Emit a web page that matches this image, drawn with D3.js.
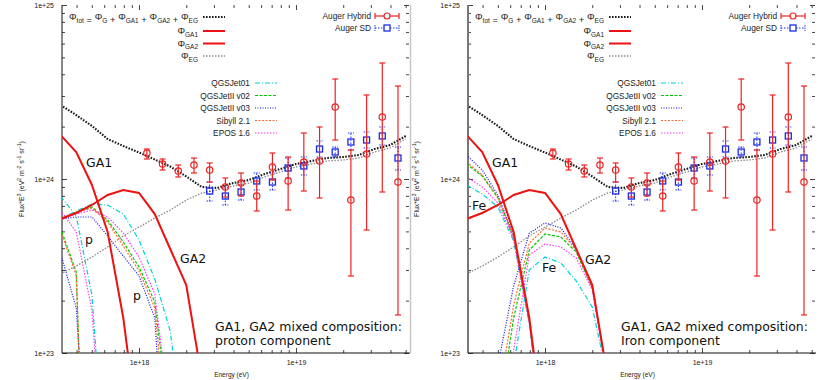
<!DOCTYPE html>
<html>
<head>
<meta charset="utf-8">
<script src="https://cdn.jsdelivr.net/npm/d3@7"></script>
<style>
body { margin: 0; background: #fff; }
text { font-family: "Liberation Sans", Arial, sans-serif; fill: #222; }
.big { font-family: "DejaVu Sans", sans-serif; font-size: 12.5px; fill: #111; }
</style>
</head>
<body>
<div id="chart"></div>
<script>
// energies (eV) of the model grid, flux values below are in units of 1e24 eV^2 m^-2 s^-1 sr^-1
var gridE = [3.16e17, 3.98e17, 5.01e17, 6.31e17, 7.94e17, 1.0e18, 1.26e18, 1.58e18, 2.0e18, 2.51e18, 3.16e18,
    3.98e18, 5.01e18, 6.31e18, 7.94e18, 1.0e19, 1.26e19, 1.58e19, 2.0e19, 2.51e19, 3.16e19, 3.98e19, 5.01e19];

var totalFlux = [2.663, 2.332, 2.017, 1.698, 1.547, 1.420, 1.294, 1.180, 1.034, 0.900, 0.888,
    0.948, 0.987, 1.068, 1.141, 1.219, 1.269, 1.320, 1.338, 1.374, 1.487, 1.568, 1.767];
var egFlux = [0.2845, 0.3162, 0.3562, 0.4066, 0.4704, 0.5298, 0.5969, 0.663, 0.757, 0.831, 0.865,
    0.9115, 0.948, 1.027, 1.097, 1.172, 1.219, 1.269, 1.286, 1.320, 1.430, 1.507, 1.698];
var ga1Flux = [1.790, 1.430, 0.924, 0.4958, 0.1589, 0.0316];
var ga2Flux = [0.589, 0.638, 0.709, 0.809, 0.865, 0.831, 0.629, 0.396, 0.246, 0.0718];

// Auger data
var hybridE = [1.122e18, 1.413e18, 1.778e18, 2.239e18, 2.818e18, 3.548e18, 4.467e18, 5.623e18, 7.079e18,
    8.913e18, 1.122e19, 1.413e19, 1.778e19, 2.239e19, 2.818e19, 3.548e19, 4.467e19];
var hybridFlux = [1.411, 1.219, 1.112, 1.203, 1.126, 0.900, 0.948, 0.798, 1.172, 0.974, 1.252, 1.269, 2.593, 0.757, 1.392, 2.272, 0.961];
var hybridLo = [1.303, 1.126, 1.027, 1.083, 0.961, 0.788, 0.798, 0.655, 0.987, 0.663, 0.853, 0.778, 1.675, 0.277, 0.509, 0.842, 0.1654];
var hybridHi = [1.487, 1.303, 1.203, 1.320, 1.236, 1.013, 1.083, 0.974, 1.411, 1.338, 1.838, 1.990, 3.755, 1.468, 3.039, 4.642, 3.423];

var sdE = [2.818e18, 3.548e18, 4.467e18, 5.623e18, 7.079e18, 8.913e18, 1.122e19, 1.413e19, 1.778e19, 2.239e19, 2.818e19, 3.548e19, 4.467e19];
var sdFlux = [0.853, 0.798, 0.842, 0.974, 0.961, 1.157, 1.188, 1.487, 1.430, 1.632, 1.675, 1.767, 1.320];
var sdLo = [0.747, 0.709, 0.757, 0.865, 0.865, 1.013, 1.054, 1.338, 1.338, 1.468, 1.507, 1.568, 1.126];
var sdHi = [0.961, 0.888, 0.924, 1.083, 1.083, 1.320, 1.338, 1.654, 1.527, 1.838, 1.863, 1.990, 1.527];

// hadronic models, same order everywhere
var modelNames = ["QGSJet01", "QGSJetII v02", "QGSJetII v03", "Sibyll 2.1", "EPOS 1.6"];

// proton component of GA1 and GA2
var protonGA1 = [
    [0.798, 0.613, 0.2154, 0.01172],
    [0.523, 0.292, 0.00071],
    [0.3756, 0.1814, 0.00646],
    [0.5026, 0.2807, 0.00068],
    [0.663, 0.496, 0.1767, 0.00961]
];
var protonGA2 = [
    [0.589, 0.655, 0.718, 0.709, 0.629, 0.446, 0.2663, 0.1338, 0.0249],
    [0.589, 0.646, 0.690, 0.581, 0.4345, 0.312, 0.1965, 0.0366],
    [0.589, 0.605, 0.605, 0.470, 0.361, 0.277, 0.1589, 0.0070],
    [0.589, 0.646, 0.681, 0.566, 0.412, 0.296, 0.1814, 0.0204],
    [0.589, 0.629, 0.663, 0.605, 0.489, 0.3562, 0.2184, 0.0412]
];
// iron component of GA1 and GA2
var ironGA1 = [
    [0.924, 0.820, 0.690, 0.440, 0.1468, 0.0280],
    [1.219, 1.040, 0.778, 0.464, 0.1527, 0.0292],
    [1.374, 1.126, 0.809, 0.470, 0.1548, 0.0296],
    [1.252, 1.054, 0.788, 0.464, 0.1527, 0.0292],
    [1.027, 0.900, 0.728, 0.452, 0.1487, 0.0284]
];
var ironGA2 = [
    [null, null, 0.01429, 0.0853, 0.300, 0.3562, 0.329, 0.2594, 0.1838, 0.0700],
    [null, null, 0.0412, 0.1589, 0.3908, 0.483, 0.464, 0.3806, 0.2363, 0.0718],
    [null, null, 0.0853, 0.2427, 0.489, 0.559, 0.523, 0.396, 0.2395, 0.0718],
    [null, null, 0.0537, 0.1887, 0.4287, 0.523, 0.496, 0.3908, 0.2363, 0.0718],
    [null, null, 0.0243, 0.1040, 0.3658, 0.4231, 0.4066, 0.3516, 0.2302, 0.0709]
];

var xTickValues = [1e18, 1e19];
var xTickLabels = ["1e+18", "1e+19"];
var yTickValues = [0.1, 1, 10];
var yTickLabels = ["1e+23", "1e+24", "1e+25"];

var formulaSubs = ["tot", "G", "GA1", "GA2", "EG"];
var formulaOps = [" = ", " + ", " + ", " + "];

var panels = [
    { labels: [["GA1", 86, 167], ["GA2", 180, 263], ["p", 85, 244], ["p", 133, 300]],
      title: ["GA1, GA2 mixed composition:", "proton component"], ga1: protonGA1, ga2: protonGA2,
      axisColor: "#111", axisW: 1, ylabelX: 24 },
    { labels: [["GA1", 86, 167], ["GA2", 179, 264], ["Fe", 66, 210], ["Fe", 136, 272]],
      title: ["GA1, GA2 mixed composition:", "Iron component"], ga1: ironGA1, ga2: ironGA2,
      axisColor: "#777", axisW: 2, ylabelX: 13 }
];

var modelColors = ["#00d4d4", "#00c800", "#1010e8", "#ff6a30", "#ff3cff"];
var modelDash = ["5,2,1,2", "3,1.5", "1,1.5", "2,1.5", "1.5,1.5"];

var width = 830, height = 380;
var margin = { left: 62, right: 421, top: 5, bottom: 27 };
var svg = d3.select("#chart").append("svg").attr("width", width).attr("height", height);

var x = d3.scaleLog().domain([3.23e17, 5.25e19]).range([margin.left, width - margin.right]);
var y = d3.scaleLog().domain([0.1, 10]).range([height - margin.bottom, margin.top]);

svg.append("defs").append("clipPath").attr("id", "plotclip")
    .append("rect").attr("x", x.range()[0]).attr("y", y.range()[1])
    .attr("width", x.range()[1] - x.range()[0]).attr("height", y.range()[0] - y.range()[1]);

function pairs(arr, es) {
    es = es || gridE;
    return arr.map(function (v, i) { return [es[i], v]; });
}

var line = d3.line()
    .defined(function (d) { return d[1] != null; })
    .x(function (d) { return x(d[0]); })
    .y(function (d) { return y(d[1]); });

function drawPanel(p, offset) {
    var g = svg.append("g").attr("transform", "translate(" + offset + ",0)");
    var x0 = x.range()[0], x1 = x.range()[1], y0 = y.range()[0], y1 = y.range()[1];

    // ticks, mirrored on every side
    var minorX = x.ticks().filter(function (d) { return xTickValues.indexOf(d) < 0; });
    var minorY = y.ticks().filter(function (d) { return yTickValues.indexOf(d) < 0; });
    var tickStyle = function (a) {
        a.select(".domain").remove();
        a.selectAll("line").attr("stroke", "#444");
        a.selectAll("text").attr("fill", "#333").style("font-size", "7px");
    };
    g.append("g").attr("transform", "translate(0," + y0 + ")")
        .call(d3.axisBottom(x).tickValues(xTickValues).tickSize(-5).tickPadding(7)
            .tickFormat(function (d, i) { return xTickLabels[i]; })).call(tickStyle);
    g.append("g").attr("transform", "translate(0," + y0 + ")")
        .call(d3.axisBottom(x).tickValues(minorX).tickSize(-3).tickFormat("")).call(tickStyle);
    g.append("g").attr("transform", "translate(0," + y1 + ")")
        .call(d3.axisTop(x).tickValues(xTickValues).tickSize(-5).tickFormat("")).call(tickStyle);
    g.append("g").attr("transform", "translate(0," + y1 + ")")
        .call(d3.axisTop(x).tickValues(minorX).tickSize(-3).tickFormat("")).call(tickStyle);
    g.append("g").attr("transform", "translate(" + x0 + ",0)")
        .call(d3.axisLeft(y).tickValues(yTickValues).tickSize(-5).tickPadding(8)
            .tickFormat(function (d, i) { return yTickLabels[i]; })).call(tickStyle);
    g.append("g").attr("transform", "translate(" + x0 + ",0)")
        .call(d3.axisLeft(y).tickValues(minorY).tickSize(-3).tickFormat("")).call(tickStyle);
    g.append("g").attr("transform", "translate(" + x1 + ",0)")
        .call(d3.axisRight(y).tickValues(yTickValues).tickSize(-5).tickFormat("")).call(tickStyle);
    g.append("g").attr("transform", "translate(" + x1 + ",0)")
        .call(d3.axisRight(y).tickValues(minorY).tickSize(-3).tickFormat("")).call(tickStyle);

    g.append("line").attr("x1", x0).attr("x2", x0).attr("y1", y1).attr("y2", y0)
        .attr("stroke", p.axisColor).attr("stroke-width", p.axisW);
    g.append("line").attr("x1", x0).attr("x2", x1 + 1).attr("y1", y0).attr("y2", y0)
        .attr("stroke", "#111").attr("stroke-width", 1);
    if (offset == 0) {
        g.append("line").attr("x1", x1 + 1.5).attr("x2", x1 + 1.5).attr("y1", y1).attr("y2", y0)
            .attr("stroke", "#c8c8c8").attr("stroke-width", 1.5);
    }

    // axis titles
    g.append("text").attr("x", (x0 + x1) / 2 - 4).attr("y", 377).attr("text-anchor", "middle")
        .style("font-size", "6.5px").text("Energy (eV)");
    var yl = g.append("text").attr("transform", "translate(" + p.ylabelX + "," + ((y0 + y1) / 2) + ") rotate(-90)")
        .attr("text-anchor", "middle").style("font-size", "7px");
    yl.append("tspan").text("Flux*E");
    yl.append("tspan").attr("dy", -3).style("font-size", "5px").text("3");
    yl.append("tspan").attr("dy", 3).text(" (eV");
    yl.append("tspan").attr("dy", -3).style("font-size", "5px").text("2");
    yl.append("tspan").attr("dy", 3).text(" m");
    yl.append("tspan").attr("dy", -3).style("font-size", "5px").text("-2");
    yl.append("tspan").attr("dy", 3).text(" s");
    yl.append("tspan").attr("dy", -3).style("font-size", "5px").text("-1");
    yl.append("tspan").attr("dy", 3).text(" sr");
    yl.append("tspan").attr("dy", -3).style("font-size", "5px").text("-1");
    yl.append("tspan").attr("dy", 3).text(")");

    var plot = g.append("g").attr("clip-path", "url(#plotclip)");

    // model curves
    [p.ga1, p.ga2].forEach(function (set) {
        set.forEach(function (arr, m) {
            plot.append("path").attr("d", line(pairs(arr))).attr("fill", "none")
                .attr("stroke", modelColors[m]).attr("stroke-width", 1.2)
                .attr("stroke-dasharray", modelDash[m]);
        });
    });

    plot.append("path").attr("d", line(pairs(egFlux))).attr("fill", "none")
        .attr("stroke", "#8a8a8a").attr("stroke-width", 1.3).attr("stroke-dasharray", "1.5,1.5");
    plot.append("path").attr("d", line(pairs(ga1Flux))).attr("fill", "none")
        .attr("stroke", "#ee1111").attr("stroke-width", 2);
    plot.append("path").attr("d", line(pairs(ga2Flux))).attr("fill", "none")
        .attr("stroke", "#ee1111").attr("stroke-width", 2);
    plot.append("path").attr("d", line(pairs(totalFlux))).attr("fill", "none")
        .attr("stroke", "#1a1a1a").attr("stroke-width", 2.1).attr("stroke-dasharray", "1.6,1.4");

    // Auger SD
    sdE.forEach(function (e, i) {
        var cx = x(e);
        plot.append("line").attr("x1", cx).attr("x2", cx).attr("y1", y(sdLo[i])).attr("y2", y(sdHi[i]))
            .attr("stroke", "#2233ee").attr("stroke-dasharray", "1.5,1.5");
        [sdLo[i], sdHi[i]].forEach(function (v) {
            plot.append("line").attr("x1", cx - 3).attr("x2", cx + 3).attr("y1", y(v)).attr("y2", y(v))
                .attr("stroke", "#2233ee").attr("stroke-dasharray", "1.5,1");
        });
        plot.append("rect").attr("x", cx - 3).attr("y", y(sdFlux[i]) - 3).attr("width", 6).attr("height", 6)
            .attr("fill", "none").attr("stroke", "#1a2ae8").attr("stroke-width", 1.3);
    });
    // Auger Hybrid
    hybridE.forEach(function (e, i) {
        var cx = x(e);
        plot.append("line").attr("x1", cx).attr("x2", cx).attr("y1", y(hybridLo[i])).attr("y2", y(hybridHi[i]))
            .attr("stroke", "#ee2222").attr("stroke-width", 1.2);
        [hybridLo[i], hybridHi[i]].forEach(function (v) {
            plot.append("line").attr("x1", cx - 3).attr("x2", cx + 3).attr("y1", y(v)).attr("y2", y(v))
                .attr("stroke", "#ee2222").attr("stroke-width", 1.2);
        });
        plot.append("circle").attr("cx", cx).attr("cy", y(hybridFlux[i])).attr("r", 3.2)
            .attr("fill", "none").attr("stroke", "#ee2222").attr("stroke-width", 1.2);
    });

    // legend: flux components
    var f = g.append("text").attr("x", 198).attr("y", 20).attr("text-anchor", "end").style("font-size", "9.5px");
    formulaSubs.forEach(function (s, i) {
        f.append("tspan").attr("dy", i == 0 ? 0 : -2.5).text("\u03a6");
        f.append("tspan").attr("dy", 2.5).style("font-size", "6.5px").text(s);
        if (i < formulaOps.length) f.append("tspan").text(formulaOps[i]);
    });
    var comps = [["GA1", "#ee1111", null, 2], ["GA2", "#ee1111", null, 2], ["EG", "#8a8a8a", "1.5,1.5", 1.3]];
    comps.forEach(function (c, i) {
        var ly = 32 + i * 12.5;
        var t = g.append("text").attr("x", 198).attr("y", ly + 2).attr("text-anchor", "end").style("font-size", "9.5px");
        t.append("tspan").text("\u03a6");
        t.append("tspan").attr("dy", 2.5).style("font-size", "6.5px").text(c[0]);
        g.append("line").attr("x1", 203).attr("x2", 225).attr("y1", ly - 1).attr("y2", ly - 1)
            .attr("stroke", c[1]).attr("stroke-width", c[3]).attr("stroke-dasharray", c[2]);
    });
    g.append("line").attr("x1", 203).attr("x2", 225).attr("y1", 17).attr("y2", 17)
        .attr("stroke", "#1a1a1a").attr("stroke-width", 2.1).attr("stroke-dasharray", "1.6,1.4");

    // legend: models
    modelNames.forEach(function (n, m) {
        var ly = 83 + m * 12.5;
        g.append("text").attr("x", 250).attr("y", ly + 3).attr("text-anchor", "end").style("font-size", "8.3px").text(n);
        g.append("line").attr("x1", 255).attr("x2", 277).attr("y1", ly).attr("y2", ly)
            .attr("stroke", modelColors[m]).attr("stroke-width", 1.2).attr("stroke-dasharray", modelDash[m]);
    });

    // legend: data
    g.append("text").attr("x", 371).attr("y", 19).attr("text-anchor", "end").style("font-size", "8.3px").text("Auger Hybrid");
    g.append("line").attr("x1", 375).attr("x2", 399).attr("y1", 16).attr("y2", 16).attr("stroke", "#ee2222").attr("stroke-width", 1.2);
    [375, 399].forEach(function (lx) {
        g.append("line").attr("x1", lx).attr("x2", lx).attr("y1", 13).attr("y2", 19).attr("stroke", "#ee2222").attr("stroke-width", 1.2);
    });
    g.append("circle").attr("cx", 387).attr("cy", 16).attr("r", 3).attr("fill", "#fff").attr("stroke", "#ee2222").attr("stroke-width", 1.2);
    g.append("text").attr("x", 371).attr("y", 31).attr("text-anchor", "end").style("font-size", "8.3px").text("Auger SD");
    g.append("line").attr("x1", 375).attr("x2", 399).attr("y1", 28).attr("y2", 28).attr("stroke", "#2233ee").attr("stroke-dasharray", "1.5,1.5");
    [375, 399].forEach(function (lx) {
        g.append("line").attr("x1", lx).attr("x2", lx).attr("y1", 25).attr("y2", 31).attr("stroke", "#2233ee").attr("stroke-dasharray", "1.5,1");
    });
    g.append("rect").attr("x", 384).attr("y", 25).attr("width", 6).attr("height", 6).attr("fill", "#fff").attr("stroke", "#1a2ae8").attr("stroke-width", 1.3);

    // annotations
    p.labels.forEach(function (l) {
        g.append("text").attr("class", "big").attr("x", l[1]).attr("y", l[2]).text(l[0]);
    });
    p.title.forEach(function (t, i) {
        g.append("text").attr("class", "big").attr("x", 215).attr("y", 331 + i * 14).text(t);
    });
}

drawPanel(panels[0], 0);
drawPanel(panels[1], 406);
</script>
</body>
</html>
